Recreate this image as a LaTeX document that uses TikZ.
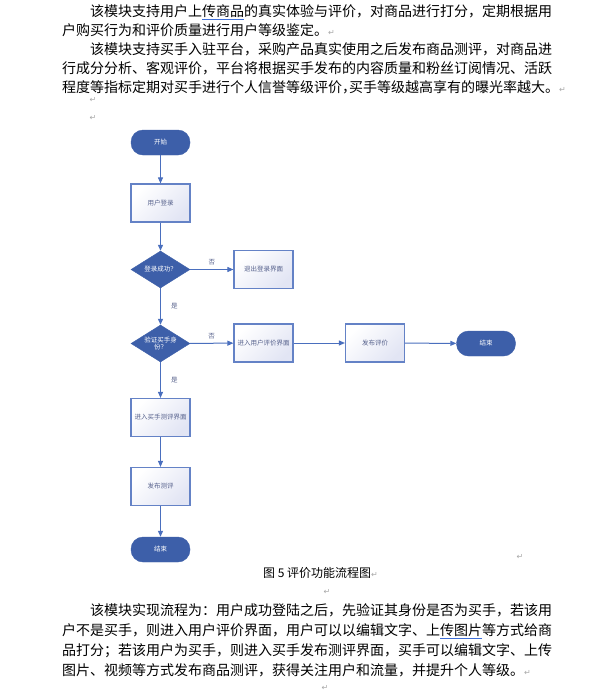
\documentclass[tikz,border=0pt]{standalone}
\usepackage{fontspec}
\setmainfont{Noto Sans CJK SC}
\newfontfamily\markfont{DejaVu Sans}
\usepackage{xcolor}
\usetikzlibrary{arrows.meta, positioning, shapes.geometric}

\definecolor{flowblue}{HTML}{3D5FA9}
\definecolor{edgeblue}{HTML}{4A6FBE}
\definecolor{boxline}{HTML}{6482C6}
\definecolor{boxlav}{HTML}{E2E5F4}
\definecolor{labelgray}{HTML}{56618C}
\definecolor{markgray}{HTML}{A8A8A8}
\definecolor{wavyblue}{HTML}{3F6FD8}

\newcommand\pmark{{\markfont\fontsize{8}{8}\selectfont\textcolor{markgray}{↵}}}
\newcommand\gmark[1]{\setbox0\hbox{#1}\rlap{\textcolor{wavyblue}{\rule[-3pt]{\wd0}{0.8pt}}}\box0}

\begin{document}
\begin{tikzpicture}[
      x=1pt, y=-1pt,
      txt/.style={anchor=base west, inner sep=0pt, font=\fontsize{14}{14}\selectfont},
      captxt/.style={anchor=base west, inner sep=0pt, font=\fontsize{12}{12}\selectfont},
      mk/.style={inner sep=0pt},
      term/.style={draw=flowblue, fill=flowblue, rounded corners=12pt,
                   minimum width=59pt, minimum height=25pt, inner sep=0pt,
                   text=white, font=\fontsize{6.5}{7}\selectfont},
      proc/.style={draw=boxline, line width=1.2pt, top color=white,
                   bottom color=boxlav, shading angle=45,
                   minimum width=59pt, minimum height=38pt, inner sep=0pt,
                   text=labelgray, font=\fontsize{6.5}{7}\selectfont},
      dec/.style={diamond, aspect=1.6, draw=flowblue, fill=flowblue,
                  minimum width=59pt, minimum height=37pt, inner sep=0pt,
                  text=white, align=center, font=\fontsize{6.5}{7.5}\selectfont},
      yn/.style={inner sep=0pt, text=labelgray, font=\fontsize{6.5}{7}\selectfont},
      arr/.style={-{Triangle[length=6pt,width=5pt]}, draw=edgeblue, line width=1pt},
  ]
  \fill[white] (0,0) rectangle (606,697);
  \useasboundingbox (0,0) rectangle (606,697);

  %% text above the chart
  \node[txt] (p1a) at (90,16.3) {该模块支持用户上\gmark{传商品}的真实体验与评价，对商品进行打分，定期根据用};
  \node[txt] (p1b) at (62,35.3) {户购买行为和评价质量进行用户等级鉴定。\pmark};
  \node[txt] (p2a) at (90,54.5) {该模块支持买手入驻平台，采购产品真实使用之后发布商品测评，对商品进};
  \node[txt] (p2b) at (62,73.5) {行成分分析、客观评价，平台将根据买手发布的内容质量和粉丝订阅情况、活跃};
  \node[txt] (p2c) at (62,92.5) {程度等指标定期对买手进行个人信誉等级评价\makebox[7pt][l]{，}买手等级越高享有的曝光率越大。\pmark};
  \node[mk] (e1) at (93,100) {\pmark};
  \node[mk] (e2) at (93,118) {\pmark};

  %% flow chart
  \node[term] (start)  at (160.5,142.5) {开始};
  \node[proc] (login)  at (160.5,203)   {用户登录};
  \node[dec]  (ok)     at (160.5,269.5) {登录成功？};
  \node[proc] (quit)   at (263.5,269.5) {退出登录界面};
  \node[dec]  (buyer)  at (160.5,343.5) {验证买手身\\份？};
  \node[proc] (ueval)  at (263.5,343)   {进入用户评价界面};
  \node[proc] (peval)  at (375,343)     {发布评价};
  \node[term] (end1)   at (486,343.5)   {结束};
  \node[proc] (btest)  at (160.5,417.5) {进入买手测评界面};
  \node[proc] (ptest)  at (160.5,486.5) {发布测评};
  \node[term] (end2)   at (160.5,549.5) {结束};

  %% arrows
  \draw[arr] (start) -- (login);
  \draw[arr] (login) -- (ok);
  \draw[arr] (ok)    -- node[yn, above=4pt]{否} (quit);
  \draw[arr] (ok)    -- node[yn, right=10pt]{是} (buyer);
  \draw[arr] (buyer) -- node[yn, above=4pt]{否} (ueval);
  \draw[arr] (ueval) -- (peval);
  \draw[arr] (peval) -- (end1);
  \draw[arr] (buyer) -- node[yn, right=10pt]{是} (btest);
  \draw[arr] (btest) -- (ptest);
  \draw[arr] (ptest) -- (end2);

  %% caption and text below
  \node[mk] (e3) at (520,557) {\pmark};
  \node[captxt] (fig) at (263,577.6) {图 5 评价功能流程图\pmark};
  \node[mk] (e4) at (327,592) {\pmark};
  \node[txt] (p3a) at (90,615.3) {该模块实现流程为：用户成功登陆之后，先验证其身份是否为买手，若该用};
  \node[txt] (p3b) at (62,635.3) {户不是买手，则进入用户评价界面，用户可以以编辑文字、上\gmark{传图片}等方式给商};
  \node[txt] (p3c) at (62,655.5) {品打分；若该用户为买手，则进入买手发布测评界面，买手可以编辑文字、上传};
  \node[txt] (p3d) at (62,675.5) {图片、视频等方式发布商品测评，获得关注用户和流量，并提升个人等级。\pmark};
  \node[mk] (e5) at (325,688) {\pmark};

  \end{tikzpicture}
\end{document}
